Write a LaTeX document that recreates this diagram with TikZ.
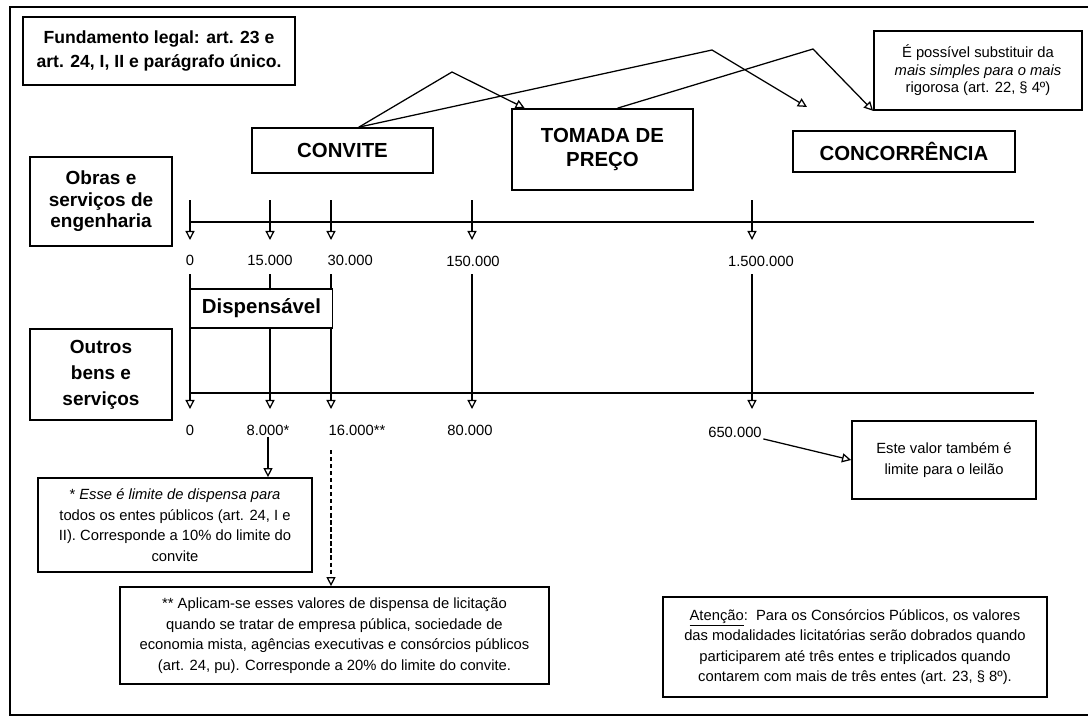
\documentclass[tikz,border=0pt]{standalone}
\usepackage{fontspec}
\setmainfont{Liberation Sans}
\usepackage{tikz}
\usetikzlibrary{arrows.meta}

\begin{document}
\begin{tikzpicture}
                [
                x=0.025cm,y=-0.025cm,
                caixa/.style={draw,line width=1.2pt,fill=white,inner sep=2pt,align=center},
                modal/.style={caixa,font=\bfseries\fontsize{14.5}{16.5}\selectfont},
                rotulo/.style={caixa,font=\bfseries\fontsize{13.5}{15.3}\selectfont},
                nota/.style={caixa,font=\fontsize{10.5}{14.6}\selectfont},
                valor/.style={font=\fontsize{10.5}{12}\selectfont,inner sep=1pt},
                linha/.style={line width=1pt},
                seta/.style={-{Triangle[open,length=6.5pt,width=6.5pt]},line width=0.9pt}
                ]
            \useasboundingbox (0,0) rectangle (1088,719);
            \draw[line width=1.8pt] (1088,7) -- (10,7) -- (10,715) -- (1088,715);

            % eixos
            \coordinate (eixo1) at (190,222);
            \coordinate (eixo1fim) at (1034,222);
            \coordinate (eixo2) at (190,393);
            \coordinate (eixo2fim) at (1034,393);
            \draw[linha] (eixo1) -- (eixo1fim);
            \draw[linha] (eixo2) -- (eixo2fim);

            % colunas
            \coordinate (cimaA) at (190,200);
            \coordinate (cimaB) at (270,200);
            \coordinate (cimaC) at (331,200);
            \coordinate (cimaD) at (472,200);
            \coordinate (cimaE) at (752,200);
            \coordinate (pontaA) at (190,240);
            \coordinate (pontaB) at (270,240);
            \coordinate (pontaC) at (331,240);
            \coordinate (pontaD) at (472,240);
            \coordinate (pontaE) at (752,240);
            \coordinate (meioA) at (190,274);
            \coordinate (meioB) at (270,274);
            \coordinate (meioC) at (331,274);
            \coordinate (meioD) at (472,274);
            \coordinate (meioE) at (752,274);
            \coordinate (baixoA) at (190,409);
            \coordinate (baixoB) at (270,409);
            \coordinate (baixoC) at (331,409);
            \coordinate (baixoD) at (472,409);
            \coordinate (baixoE) at (752,409);
            \draw[seta] (cimaA) -- (pontaA);
            \draw[seta] (cimaB) -- (pontaB);
            \draw[seta] (cimaC) -- (pontaC);
            \draw[seta] (cimaD) -- (pontaD);
            \draw[seta] (cimaE) -- (pontaE);
            \draw[seta] (meioA) -- (baixoA);
            \draw[seta] (meioB) -- (baixoB);
            \draw[seta] (meioC) -- (baixoC);
            \draw[seta] (meioD) -- (baixoD);
            \draw[seta] (meioE) -- (baixoE);

            % valores
            \node[valor] (t0) at (190,260) {0};
            \node[valor] (t15) at (270,260) {15.000};
            \node[valor,anchor=west] (t30) at (326,260) {30.000};
            \node[valor] (t150) at (473,261) {150.000};
            \node[valor] (t1500) at (761,261) {1.500.000};
            \node[valor] (b0) at (190,430) {0};
            \node[valor] (b8) at (268,430) {8.000*};
            \node[valor,anchor=west] (b16) at (327,430) {16.000**};
            \node[valor] (b80) at (470,430) {80.000};
            \node[valor] (b650) at (735,432) {650.000};

            % caixas
            \node[rotulo,font=\bfseries\fontsize{12.5}{16.5}\selectfont,minimum width=6.8cm,minimum height=1.7cm] (fund) at (159,51) {Fundamento legal: art. 23 e\\art. 24, I, II e parágrafo único.};
            \node[rotulo,minimum width=3.55cm,minimum height=2.225cm] (obras) at (101,201.5) {Obras e\\serviços de\\engenharia};
            \node[rotulo,font=\bfseries\fontsize{13.5}{18.5}\selectfont,minimum width=3.55cm,minimum height=2.275cm] (outros) at (101,374.5) {Outros\\bens e\\serviços};
            \node[modal,minimum width=4.525cm,minimum height=1.125cm] (convite) at (342.5,150.5) {CONVITE};
            \node[modal,minimum width=4.525cm,minimum height=2.025cm] (tomada) at (602.5,149.5) {TOMADA DE\\PREÇO};
            \node[modal,minimum width=5.55cm,minimum height=1.025cm] (concorrencia) at (904,151.5) {CONCORRÊNCIA};
            \node[nota,font=\fontsize{10.5}{12.5}\selectfont,minimum width=5.2cm,minimum height=1.975cm] (possivel) at (978,70.5) {É possível substituir da\\\textit{mais simples para o mais}\\rigorosa (art. 22, § 4º)};
            \node[modal,font=\bfseries\fontsize{14.5}{16}\selectfont,minimum width=3.55cm,minimum height=0.975cm] (dispensavel) at (261.5,308.5) {Dispensável};
            \node[nota,minimum width=6.85cm,minimum height=2.35cm] (nota1) at (175,525) {* \textit{Esse é limite de dispensa para}\\todos os entes públicos (art. 24, I e\\II). Corresponde a 10\% do limite do\\convite};
            \node[nota,minimum width=10.725cm,minimum height=2.425cm] (nota2) at (334.5,635.5) {** Aplicam-se esses valores de dispensa de licitação\\quando se tratar de empresa pública, sociedade de\\economia mista, agências executivas e consórcios públicos\\(art. 24, pu). Corresponde a 20\% do limite do convite.};
            \node[nota,minimum width=4.6cm,minimum height=1.95cm] (este) at (944,460) {Este valor também é\\limite para o leilão};
            \node[nota,minimum width=9.6cm,minimum height=2.5cm] (atencao) at (855,647) {\underline{Atenção}:\ \ Para os Consórcios Públicos, os valores\\das modalidades licitatórias serão dobrados quando\\participarem até três entes e triplicados quando\\contarem com mais de três entes (art. 23, § 8º).};

            % substituicao
            \coordinate (dobraA) at (452,72);
            \coordinate (dobraB) at (712,50);
            \coordinate (alvoB) at (807,107);
            \coordinate (dobraC) at (813,49);
            \draw[seta] (convite.55) -- (dobraA) -- (tomada.152);
            \draw[seta] (convite.55) -- (dobraB) -- (alvoB);
            \draw[seta] (tomada.70) -- (dobraC) -- (possivel.south west);

            % notas
            \coordinate (tracoC) at (331,450);
            \draw[seta] (b8) -- (b8 |- nota1.north);
            \draw[seta,dash pattern=on 3pt off 2pt] (tracoC) -- (tracoC |- nota2.north);
            \draw[seta] (b650.south east) -- (este.west);
\end{tikzpicture}
\end{document}
